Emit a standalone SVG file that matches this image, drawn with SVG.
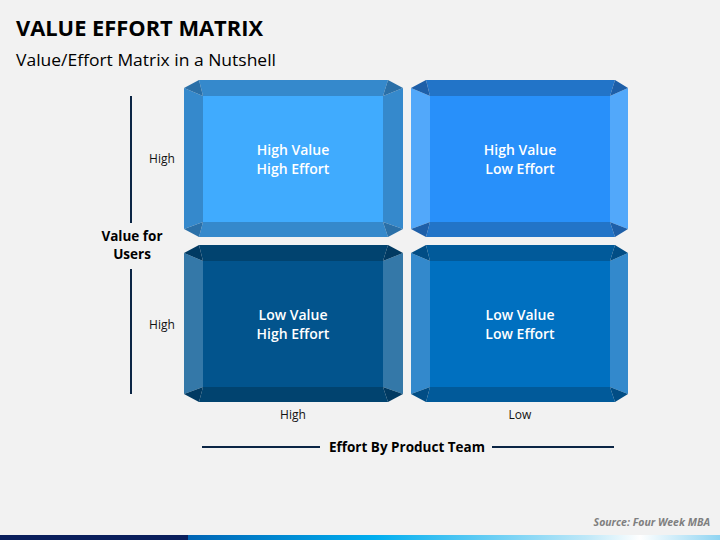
<svg xmlns="http://www.w3.org/2000/svg" width="720" height="540" viewBox="0 0 720 540">
<defs>
<linearGradient id="barg" x1="0" y1="0" x2="1" y2="0">
<stop offset="0" stop-color="#0064B4"/>
<stop offset="0.35" stop-color="#00AEEF"/>
<stop offset="0.75" stop-color="#BFE8F8"/>
<stop offset="0.85" stop-color="#FFFFFF"/>
<stop offset="1" stop-color="#8FD4F2"/>
</linearGradient>
</defs>
<style>
text{font-family:"Open Sans","Noto Sans",sans-serif;}
.lbl{font-size:12px;fill:#111;text-anchor:middle;}
.box{font-size:14px;font-weight:600;fill:#fff;text-anchor:middle;}
.axis{stroke:#0B2545;stroke-width:2;}
.bold{font-weight:bold;font-size:13.5px;fill:#000;text-anchor:middle;}
</style>
<rect width="720" height="540" fill="#F2F2F2"/>
<text x="16" y="36" font-size="21" font-weight="bold" fill="#000" textLength="247" lengthAdjust="spacingAndGlyphs">VALUE EFFORT MATRIX</text>
<text x="16" y="66" font-size="17" fill="#000" textLength="260" lengthAdjust="spacingAndGlyphs">Value/Effort Matrix in a Nutshell</text>

<g id="q1">
<rect x="203" y="96" width="180" height="126" fill="#40ABFE"/>
<polygon points="199,80 388,80 383,96 203,96" fill="#3589CC"/>
<polygon points="203,222 383,222 388,237 199,237" fill="#3589CC"/>
<polygon points="184,88 203,96 203,222 184,229" fill="#3589CC"/>
<polygon points="403,88 383,96 383,222 403,229" fill="#3589CC"/>
<polygon points="184,88 199,80 203,96" fill="#2B70A8"/>
<polygon points="388,80 403,88 383,96" fill="#2B70A8"/>
<polygon points="184,229 203,222 199,237" fill="#2B70A8"/>
<polygon points="403,229 383,222 388,237" fill="#2B70A8"/>
<text class="box" x="293" y="155">High Value</text>
<text class="box" x="293" y="174">High Effort</text>
</g>

<g id="q2">
<rect x="430" y="96" width="180" height="126" fill="#2890FA"/>
<polygon points="426,80 615,80 610,96 430,96" fill="#2274C8"/>
<polygon points="430,222 610,222 615,237 426,237" fill="#2274C8"/>
<polygon points="411,88 430,96 430,222 411,229" fill="#52A8FA"/>
<polygon points="628,88 610,96 610,222 628,229" fill="#52A8FA"/>
<polygon points="411,88 426,80 430,96" fill="#1E5FA8"/>
<polygon points="615,80 628,88 610,96" fill="#1E5FA8"/>
<polygon points="411,229 430,222 426,237" fill="#1E5FA8"/>
<polygon points="628,229 610,222 615,237" fill="#1E5FA8"/>
<text class="box" x="520" y="155">High Value</text>
<text class="box" x="520" y="174">Low Effort</text>
</g>

<g id="q3">
<rect x="203" y="261" width="180" height="126" fill="#02548D"/>
<polygon points="199,245 388,245 383,261 203,261" fill="#01436F"/>
<polygon points="203,387 383,387 388,402 199,402" fill="#01436F"/>
<polygon points="184,253 203,261 203,387 184,394" fill="#3478A8"/>
<polygon points="403,253 383,261 383,387 403,394" fill="#3478A8"/>
<polygon points="184,253 199,245 203,261" fill="#013A62"/>
<polygon points="388,245 403,253 383,261" fill="#013A62"/>
<polygon points="184,394 203,387 199,402" fill="#013A62"/>
<polygon points="403,394 383,387 388,402" fill="#013A62"/>
<text class="box" x="293" y="320">Low Value</text>
<text class="box" x="293" y="339">High Effort</text>
</g>

<g id="q4">
<rect x="430" y="261" width="180" height="126" fill="#0070C0"/>
<polygon points="426,245 615,245 610,261 430,261" fill="#015A9A"/>
<polygon points="430,387 610,387 615,402 426,402" fill="#015A9A"/>
<polygon points="411,253 430,261 430,387 411,394" fill="#3389CC"/>
<polygon points="628,253 610,261 610,387 628,394" fill="#3389CC"/>
<polygon points="411,253 426,245 430,261" fill="#014D85"/>
<polygon points="615,245 628,253 610,261" fill="#014D85"/>
<polygon points="411,394 430,387 426,402" fill="#014D85"/>
<polygon points="628,394 610,387 615,402" fill="#014D85"/>
<text class="box" x="520" y="320">Low Value</text>
<text class="box" x="520" y="339">Low Effort</text>
</g>

<g id="connectors">
<line class="axis" x1="131" y1="96" x2="131" y2="223"/>
<line class="axis" x1="131" y1="269" x2="131" y2="394"/>
<line class="axis" x1="202" y1="447" x2="320" y2="447"/>
<line class="axis" x1="492" y1="447" x2="614" y2="447"/>
</g>

<g id="labels">
<text class="bold" x="132" y="241">Value for</text>
<text class="bold" x="132" y="259">Users</text>
<text class="lbl" x="162" y="163">High</text>
<text class="lbl" x="162" y="329">High</text>
<text class="lbl" x="293" y="419">High</text>
<text class="lbl" x="520" y="419">Low</text>
<text class="bold" x="407" y="452">Effort By Product Team</text>
</g>

<text x="710" y="526" font-size="10.5" font-weight="bold" font-style="italic" fill="#7F7F7F" text-anchor="end">Source: Four Week MBA</text>
<rect x="0" y="535" width="188" height="5" fill="#0A1F5C"/>
<rect x="188" y="535" width="532" height="5" fill="url(#barg)"/>
</svg>
